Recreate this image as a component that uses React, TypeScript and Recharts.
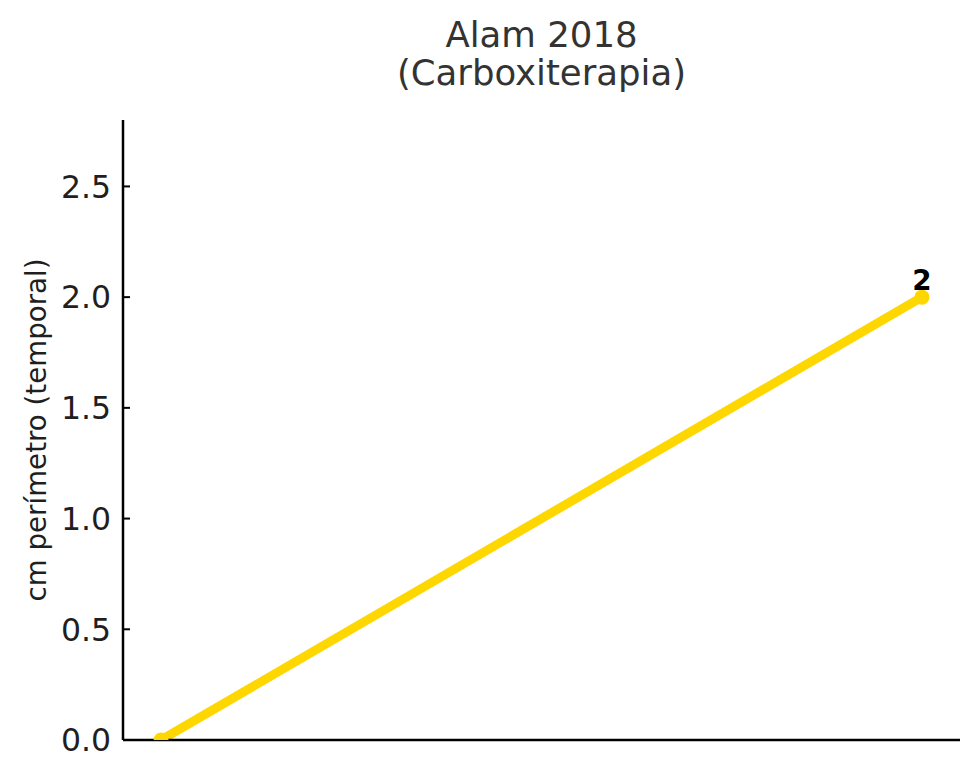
import { LineChart, Line, XAxis, YAxis, LabelList } from 'recharts';

const positions = [0, 1];
const values = [0, 2];
const pointLabels = ['', '2'];
const yTicks = [0, 0.5, 1, 1.5, 2, 2.5];

const data = positions.map((x, i) => ({ x, value: values[i], label: pointLabels[i] }));

const FONT = '"DejaVu Sans", sans-serif';
const GOLD = '#FFD700';

// ticks point inward like matplotlib's "in" direction
const YTick = (props: any) => {
  const { x, y, payload } = props;
  return (
    <g>
      <line x1={x} x2={x + 7} y1={y} y2={y} stroke="#000" strokeWidth={2} />
      <text x={x - 12} y={y} dy="0.36em" textAnchor="end" fontSize={31.5} fontFamily={FONT} fill="#1f1f1f">
        {Number(payload.value).toFixed(1)}
      </text>
    </g>
  );
};

const YLabel = (props: any) => {
  const { viewBox } = props;
  const cx = viewBox.x + 46;
  const cy = viewBox.y + viewBox.height / 2;
  return (
    <text
      x={cx}
      y={cy}
      transform={`rotate(-90, ${cx}, ${cy})`}
      textAnchor="middle"
      fontSize={27.7}
      fontFamily={FONT}
      fill="#1f1f1f"
    >
      cm perímetro (temporal)
    </text>
  );
};

const App = () => {
  return (
    <div style={{ position: 'absolute', left: 0, top: 0, width: 980, height: 780, background: '#fff' }}>
      <svg width={980} height={110} style={{ position: 'absolute', left: 0, top: 0 }}>
        <text x={541.5} y={47} textAnchor="middle" fontSize={35.5} fontFamily={FONT} fill="#333333">
          Alam 2018
        </text>
        <text x={541.5} y={85} textAnchor="middle" fontSize={35.5} fontFamily={FONT} fill="#333333">
          (Carboxiterapia)
        </text>
      </svg>
      <LineChart width={980} height={780} data={data} margin={{ top: 120, right: 20, bottom: 0, left: 0 }}>
        <XAxis
          dataKey="x"
          type="number"
          domain={[-0.05, 1.05]}
          ticks={[]}
          tick={false}
          tickLine={false}
          height={40}
          axisLine={{ stroke: '#000', strokeWidth: 2.5 }}
        />
        <YAxis
          type="number"
          domain={[0, 2.8]}
          ticks={yTicks}
          allowDataOverflow
          width={123}
          tickSize={0}
          tickMargin={0}
          tickLine={false}
          tick={<YTick />}
          axisLine={{ stroke: '#000', strokeWidth: 2.5 }}
          label={{ content: <YLabel /> }}
        />
        <Line
          type="linear"
          dataKey="value"
          stroke={GOLD}
          strokeWidth={9}
          dot={{ r: 7.5, fill: GOLD, stroke: 'none' }}
          activeDot={false}
          isAnimationActive={false}
        >
          <LabelList
            dataKey="label"
            position="top"
            offset={7}
            fontSize={27.8}
            fontWeight="bold"
            fontFamily={FONT}
            fill="#000"
          />
        </Line>
      </LineChart>
    </div>
  );
};

export default App;
